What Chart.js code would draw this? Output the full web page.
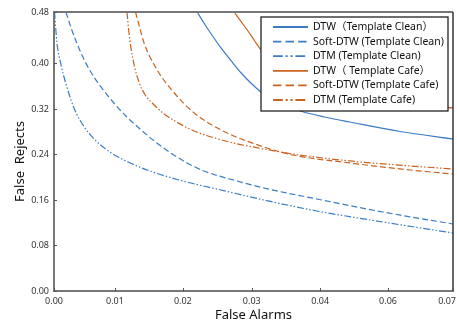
<!DOCTYPE html>
<html>
<head>
<meta charset="utf-8">
<script src="https://cdn.jsdelivr.net/npm/chart.js@4.4.1/dist/chart.umd.min.js"></script>
<style>
  html, body { margin: 0; padding: 0; background: #fff; }
  canvas { display: block; }
</style>
</head>
<body>
<canvas id="chart" width="457" height="325"></canvas>
<script>
const xTickValues = [0, 0.0107, 0.0226, 0.0347, 0.0467, 0.0586, 0.07];
const xTickLabels = ["0.00", "0.01", "0.02", "0.03", "0.04", "0.06", "0.07"];
const yMax = 0.4905;
const yTickValues = [0, 0.08, 0.16, 0.24, 0.32, 0.40, 0.4905];
const yTickLabels = ["0.00", "0.08", "0.16", "0.24", "0.32", "0.40", "0.48"];

const seriesNames = [
  "DTW（Template Clean）",
  "Soft-DTW (Template Clean)",
  "DTM (Template Clean)",
  "DTW（ Template Cafe）",
  "Soft-DTW (Template Cafe)",
  "DTM (Template Cafe)",
];

const dtwCleanX = [0.0251, 0.0263, 0.0277, 0.0293, 0.0311, 0.033, 0.0349, 0.037, 0.0396, 0.0432, 0.0475, 0.0519, 0.0607, 0.07];
const dtwCleanY = [0.4905, 0.4712, 0.4501, 0.4273, 0.4044, 0.3815, 0.3622, 0.3446, 0.3297, 0.3165, 0.3059, 0.2971, 0.2804, 0.2673];

const softCleanX = [0.0021, 0.003, 0.004, 0.0054, 0.007, 0.0088, 0.0105, 0.0126, 0.0151, 0.0177, 0.0205, 0.0235, 0.0263, 0.0321, 0.0368, 0.0461, 0.0577, 0.07];
const softCleanY = [0.4905, 0.4624, 0.436, 0.4044, 0.3763, 0.3516, 0.3305, 0.3077, 0.2848, 0.2629, 0.2426, 0.2242, 0.211, 0.1934, 0.1811, 0.1618, 0.1389, 0.1178];

const dtmCleanX = [0.0001, 0.0005, 0.0012, 0.0021, 0.0035, 0.0053, 0.0074, 0.0098, 0.013, 0.0168, 0.0233, 0.0293, 0.0368, 0.0461, 0.0577, 0.07];
const dtmCleanY = [0.4905, 0.4378, 0.3991, 0.364, 0.3218, 0.2884, 0.2637, 0.2444, 0.2268, 0.211, 0.1916, 0.1776, 0.16, 0.1407, 0.1213, 0.102];

const dtwCafeX = [0.0316, 0.0326, 0.0339, 0.0351, 0.0363, 0.0379, 0.04, 0.0428, 0.0467, 0.0519, 0.0607, 0.07];
const dtwCafeY = [0.4905, 0.4765, 0.4589, 0.4413, 0.4237, 0.4044, 0.3833, 0.364, 0.3481, 0.3367, 0.3279, 0.3218];

const softCafeX = [0.0143, 0.015, 0.0158, 0.0181, 0.0211, 0.0246, 0.0293, 0.0368, 0.0419, 0.0519, 0.0625, 0.07];
const softCafeY = [0.4905, 0.4642, 0.436, 0.3886, 0.3481, 0.313, 0.2831, 0.2532, 0.2391, 0.2251, 0.2127, 0.2057];

const dtmCafeX = [0.0128, 0.0131, 0.0135, 0.0141, 0.0149, 0.016, 0.0174, 0.0191, 0.0212, 0.0246, 0.0304, 0.0368, 0.0419, 0.0519, 0.0625, 0.07];
const dtmCafeY = [0.4905, 0.4589, 0.4273, 0.3956, 0.3675, 0.3446, 0.3288, 0.313, 0.2989, 0.2813, 0.2629, 0.2497, 0.2409, 0.2286, 0.2198, 0.2145];

const blue = "#3b7cc4";
const orange = "#c9631f";
const solid = [];
const dashed = [6, 3];
const dashDot = [7, 2, 1.5, 2, 1.5, 2];
const fontFamily = "'Noto Sans', 'Noto Sans CJK SC', sans-serif";

function points(xs, ys) {
  return xs.map((x, i) => ({ x: x, y: ys[i] }));
}

function makeDataset(label, xs, ys, color, dash) {
  return {
    label: label,
    data: points(xs, ys),
    borderColor: color,
    borderDash: dash,
    borderWidth: 1.2,
    pointRadius: 0,
    fill: false,
    cubicInterpolationMode: "monotone",
  };
}

const decorPlugin = {
  id: "decor",
  afterDatasetsDraw(chart) {
    const ctx = chart.ctx;
    const area = chart.chartArea;
    const xs = chart.scales.x;
    const ys = chart.scales.y;
    ctx.save();

    // top and right frame
    ctx.strokeStyle = "#777";
    ctx.lineWidth = 2;
    ctx.beginPath();
    ctx.moveTo(area.left, area.top);
    ctx.lineTo(area.right, area.top);
    ctx.stroke();
    ctx.strokeStyle = "#333";
    ctx.lineWidth = 1.5;
    ctx.beginPath();
    ctx.moveTo(area.right, area.top);
    ctx.lineTo(area.right, area.bottom);
    ctx.stroke();

    // small inner tick marks
    ctx.strokeStyle = "#555";
    ctx.lineWidth = 1;
    yTickValues.forEach((v) => {
      const py = Math.round(ys.getPixelForValue(v)) + 0.5;
      ctx.beginPath();
      ctx.moveTo(area.left, py);
      ctx.lineTo(area.left + 3, py);
      ctx.stroke();
    });
    xTickValues.forEach((v) => {
      const px = Math.round(xs.getPixelForValue(v)) + 0.5;
      ctx.beginPath();
      ctx.moveTo(px, area.bottom);
      ctx.lineTo(px, area.bottom - 3);
      ctx.stroke();
    });

    // x tick labels
    ctx.fillStyle = "#333";
    ctx.font = "9px " + fontFamily;
    ctx.textBaseline = "middle";
    xTickValues.forEach((v, i) => {
      const px = xs.getPixelForValue(v);
      const last = i === xTickValues.length - 1;
      ctx.textAlign = last ? "right" : "center";
      ctx.fillText(xTickLabels[i], px + (last ? 3 : 0), area.bottom + 10);
    });

    // axis titles
    ctx.fillStyle = "#111";
    ctx.font = "13px " + fontFamily;
    ctx.textAlign = "center";
    ctx.fillText("False Alarms", (area.left + area.right) / 2, area.bottom + 24);
    ctx.save();
    ctx.translate(20, (area.top + area.bottom) / 2 + 10);
    ctx.rotate(-Math.PI / 2);
    ctx.fillText("False  Rejects", 0, 0);
    ctx.restore();

    // legend box
    const lx = 261, ly = 17, lw = 187, lh = 94;
    ctx.fillStyle = "#fff";
    ctx.fillRect(lx, ly, lw, lh);
    ctx.strokeStyle = "#222";
    ctx.lineWidth = 1.3;
    ctx.strokeRect(lx, ly, lw, lh);
    ctx.font = "10.5px " + fontFamily;
    ctx.textAlign = "left";
    chart.data.datasets.forEach((ds, i) => {
      const ry = ly + 10 + i * 14.6;
      ctx.strokeStyle = ds.borderColor;
      ctx.lineWidth = 1.8;
      ctx.setLineDash(ds.borderDash.map((d) => d * 1.4));
      ctx.beginPath();
      ctx.moveTo(lx + 12, ry);
      ctx.lineTo(lx + 47, ry);
      ctx.stroke();
      ctx.setLineDash([]);
      ctx.fillStyle = "#111";
      ctx.fillText(ds.label, lx + 52, ry);
    });

    ctx.restore();
  },
};

const ctx = document.getElementById("chart");
new Chart(ctx, {
  type: "line",
  data: {
    datasets: [
      makeDataset(seriesNames[0], dtwCleanX, dtwCleanY, blue, solid),
      makeDataset(seriesNames[1], softCleanX, softCleanY, blue, dashed),
      makeDataset(seriesNames[2], dtmCleanX, dtmCleanY, blue, dashDot),
      makeDataset(seriesNames[3], dtwCafeX, dtwCafeY, orange, solid),
      makeDataset(seriesNames[4], softCafeX, softCafeY, orange, dashed),
      makeDataset(seriesNames[5], dtmCafeX, dtmCafeY, orange, dashDot),
    ],
  },
  options: {
    responsive: false,
    animation: false,
    devicePixelRatio: 1,
    layout: { padding: { left: 0, top: 12, right: 4, bottom: 0 } },
    plugins: {
      legend: { display: false },
      tooltip: { enabled: false },
    },
    scales: {
      x: {
        type: "linear",
        min: 0,
        max: 0.07,
        grid: { display: false, drawTicks: false },
        border: { display: true, color: "#777", width: 2 },
        ticks: { display: false },
        afterBuildTicks: (scale) => {
          scale.ticks = xTickValues.map((v) => ({ value: v }));
        },
        afterFit: (scale) => {
          scale.height = 34;
        },
      },
      y: {
        type: "linear",
        min: 0,
        max: yMax,
        grid: { display: false, drawTicks: false },
        border: { display: true, color: "#777", width: 2 },
        ticks: {
          padding: 5,
          color: "#333",
          font: { size: 9, family: fontFamily },
          callback: (v, i) => yTickLabels[i],
        },
        afterBuildTicks: (scale) => {
          scale.ticks = yTickValues.map((v) => ({ value: v }));
        },
        afterFit: (scale) => {
          scale.width = 54;
        },
      },
    },
  },
  plugins: [decorPlugin],
});
</script>
</body>
</html>
